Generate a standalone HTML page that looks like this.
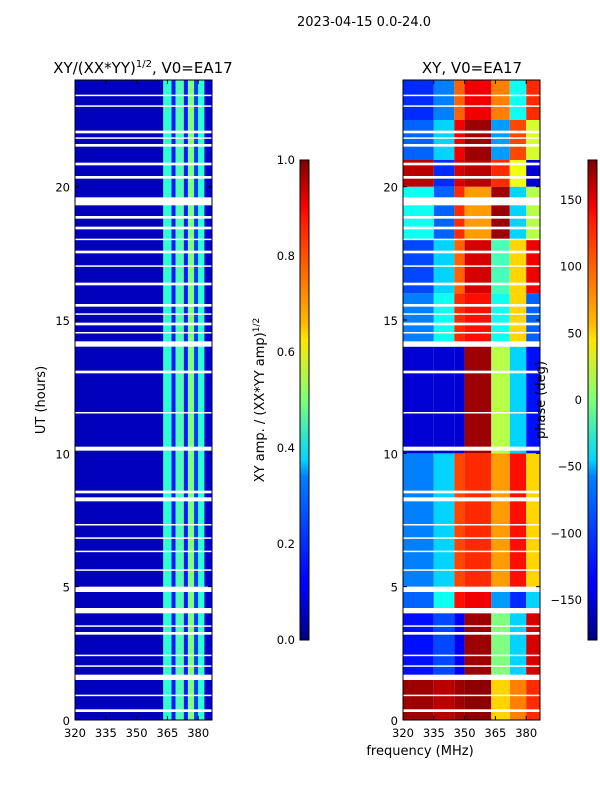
<!DOCTYPE html>
<html><head><meta charset="utf-8"><style>
body{margin:0;background:#fff;font-family:"Liberation Sans","DejaVu Sans",sans-serif}
svg text{font-family:"DejaVu Sans","Liberation Sans",sans-serif;fill:#000}
</style></head><body>
<svg id="fig" width="600" height="800" xmlns="http://www.w3.org/2000/svg">
<defs>
<linearGradient id="jet" x1="0" y1="1" x2="0" y2="0">
<stop offset="0" stop-color="#00007f"/><stop offset="0.11" stop-color="#0000ff"/><stop offset="0.125" stop-color="#0000ff"/>
<stop offset="0.34" stop-color="#0080ff"/><stop offset="0.375" stop-color="#00d4ff"/><stop offset="0.5" stop-color="#7dff7a"/>
<stop offset="0.625" stop-color="#ffe600"/><stop offset="0.66" stop-color="#ffb900"/><stop offset="0.875" stop-color="#ff1a00"/><stop offset="0.9" stop-color="#ff0000"/><stop offset="1" stop-color="#7f0000"/>
</linearGradient>
</defs>
<text x="364" y="26" font-size="13" text-anchor="middle">2023-04-15 0.0-24.0</text>
<text x="143" y="73" font-size="15" text-anchor="middle">XY/(XX*YY)<tspan font-size="10" dy="-6">1/2</tspan><tspan dy="6">, V0=EA17</tspan></text>
<text x="472" y="73" font-size="15" text-anchor="middle">XY, V0=EA17</text>
<g id="left"></g>
<g id="right"></g>
<g id="axes"></g>
<rect x="300" y="160" width="9" height="480" fill="url(#jet)" stroke="#000" stroke-width="1"/>
<rect x="588" y="160" width="9" height="480" fill="url(#jet)" stroke="#000" stroke-width="1"/>
<text transform="translate(264,400) rotate(-90)" font-size="13" text-anchor="middle">XY amp. / (XX*YY amp)<tspan font-size="9" dy="-5">1/2</tspan></text>
<text transform="translate(545,400) rotate(-90)" font-size="13" text-anchor="middle">phase (deg)</text>
<text transform="translate(45,400) rotate(-90)" font-size="13" text-anchor="middle">UT (hours)</text>
<text x="420" y="755" font-size="13" text-anchor="middle">frequency (MHz)</text>
</svg>
<script>
const freqStart = [320, 363, 367, 369, 373, 375, 378, 380, 383];
const ampValues = [0.06, 0.42, 0.15, 0.45, 0.15, 0.5, 0.18, 0.42, 0.08];
const timeBlocks = [0, 1.5, 4.2, 5, 10, 14, 16, 18, 20, 21, 22.5];
const phaseFreqs = [320, 335, 345, 350, 363, 372, 380];
const phaseValues = [
 [170, 160, 170, 175, 60, 90, 120],
 [-130, -110, -140, 170, 0, -60, 150],
 [-100, -40, 130, 140, -80, -120, -60],
 [-90, -60, 110, 120, 80, 130, 60],
 [-150, -150, -150, 170, 20, -60, -130],
 [-90, -40, 120, 130, -40, 60, -100],
 [-110, -60, 100, 150, -20, 60, 140],
 [-40, -100, 120, 80, 170, -60, 20],
 [160, -120, 150, 160, 120, 40, -150],
 [-100, -60, 140, 170, -80, 110, 30],
 [-120, -90, 100, 140, 90, -40, 120]
];
const gaps = [[0.3,0.4],[0.9,0.95],[1.5,1.7],[2.0,2.05],[2.4,2.45],[3.2,3.3],[3.5,3.55],[4.0,4.2],[4.8,5.0],[5.6,5.65],[6.3,6.35],[6.8,6.85],[7.3,7.35],[8.2,8.35],[8.5,8.6],[10.1,10.25],[11.5,11.55],[13.0,13.1],[14.0,14.2],[14.5,14.55],[14.8,14.9],[15.2,15.25],[15.5,15.6],[16.3,16.4],[17.0,17.05],[17.5,17.6],[18.0,18.05],[18.4,18.5],[18.8,18.9],[19.3,19.6],[20.3,20.4],[20.8,20.9],[21.5,21.6],[21.8,21.85],[22.0,22.1],[23.0,23.05],[23.4,23.45]];
const yTicks = [0, 5, 10, 15, 20];
const xTicks = [320, 335, 350, 365, 380];
const ampTicks = [0.0, 0.2, 0.4, 0.6, 0.8, 1.0];
const phaseTicks = [-150, -100, -50, 0, 50, 100, 150];

const NS = 'http://www.w3.org/2000/svg';
function jet(v){
  const c = t => Math.max(0, Math.min(1, 1.5 - Math.abs(4*v - t)));
  return `rgb(${Math.round(255*c(3))},${Math.round(255*c(2))},${Math.round(255*c(1))})`;
}
const PT = 80, PB = 720;
const yScale = h => PB - (h/24)*(PB-PT);
function xScale(f, x0){ return x0 + (f-320)/15*30.8; }
const FMAX = 386.5;
function rect(g, x, y, w, h, fill, name){
  const r = document.createElementNS(NS,'rect');
  r.setAttribute('x',x); r.setAttribute('y',y); r.setAttribute('width',w); r.setAttribute('height',h); r.setAttribute('fill',fill);
  
  
  g.appendChild(r); return r;
}
function text(g, x, y, s, anchor, name){
  const t = document.createElementNS(NS,'text');
  t.setAttribute('x',x); t.setAttribute('y',y); t.setAttribute('font-size','11.5'); t.setAttribute('text-anchor',anchor);
  t.textContent = s;
  
  
  g.appendChild(t);
}
function line(g,x1,y1,x2,y2){
  const l = document.createElementNS(NS,'line');
  l.setAttribute('x1',x1);l.setAttribute('y1',y1);l.setAttribute('x2',x2);l.setAttribute('y2',y2);l.setAttribute('stroke','#000');
  
  
  g.appendChild(l);
}
const L = document.getElementById('left'), R = document.getElementById('right'), A = document.getElementById('axes');
for(let i=0;i<freqStart.length;i++){
  const f0 = freqStart[i], f1 = i+1<freqStart.length ? freqStart[i+1] : FMAX;
  const x0 = xScale(f0,75), x1 = xScale(f1,75);
  rect(L, x0, PT, x1-x0, PB-PT, jet(ampValues[i]), 'amp-cell');
}
for(let t=0;t<timeBlocks.length;t++){
  const h0 = timeBlocks[t], h1 = t+1<timeBlocks.length ? timeBlocks[t+1] : 24;
  for(let i=0;i<phaseFreqs.length;i++){
    const f0 = phaseFreqs[i], f1 = i+1<phaseFreqs.length ? phaseFreqs[i+1] : FMAX;
    const x0 = xScale(f0,403), x1 = xScale(f1,403);
    rect(R, x0, yScale(h1), x1-x0, yScale(h0)-yScale(h1), jet((phaseValues[t][i]+180)/360), 'phase-cell');
  }
}
for(const [a,b] of gaps){
  rect(L, 75, yScale(b), 137, Math.max(1.5, yScale(a)-yScale(b)), '#fff', 'flag-gap');
  rect(R, 403, yScale(b), 137, Math.max(1.5, yScale(a)-yScale(b)), '#fff', 'flag-gap');
}
for(const x0 of [75,403]){
  const fr = rect(A, x0, PT, 137, PB-PT, 'none', 'plot-frame');
  fr.setAttribute('stroke','#000');
  for(const h of yTicks){ const y=yScale(h); line(A,x0,y,x0+4,y); line(A,x0+137,y,x0+133,y); text(A,x0-5,y+5,String(h),'end','y-tick-label'); }
  for(const f of xTicks){ const x=xScale(f,x0); line(A,x,PB,x,PB-4); line(A,x,PT,x,PT+4); text(A,x,737,String(f),'middle','x-tick-label'); }
}
for(const v of ampTicks){ const y = 640 - v*480; line(A,300,y,303,y); line(A,309,y,306,y); text(A,295,y+4,v.toFixed(1),'end','amp-tick-label'); }
for(const v of phaseTicks){ const y = 400 - v/180*240; line(A,588,y,591,y); line(A,597,y,594,y); text(A,582,y+4,v<0?'\u2212'+(-v):String(v),'end','phase-tick-label'); }
</script>
</body></html>
